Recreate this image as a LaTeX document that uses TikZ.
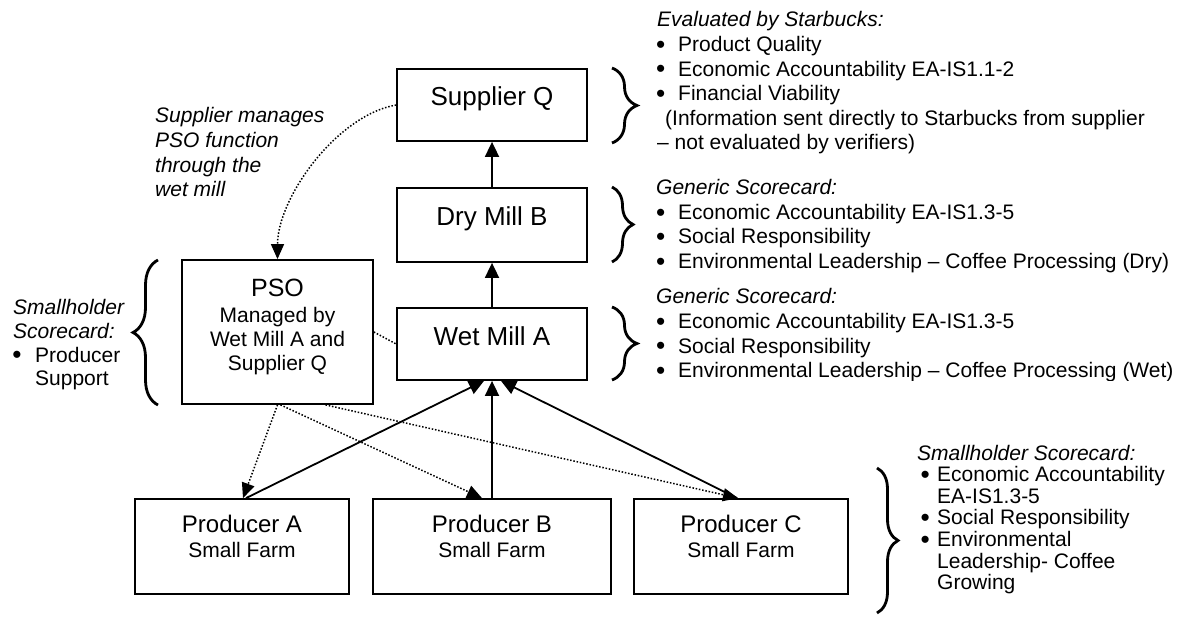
\documentclass[tikz,border=0pt]{standalone}
\usepackage{fontspec}
\setmainfont{Liberation Sans}
\usetikzlibrary{arrows.meta,decorations.pathreplacing,calc}

% bullet set in a box of fixed width, so that the item text starts at a fixed place
\newcommand\bulletbox[1]{\makebox[#1][l]{\raisebox{-0.08em}{\scalebox{1.25}{\textbullet}}}}

\begin{document}
\begin{tikzpicture}[x=1pt,y=-1pt,
  box/.style={draw, line width=1.8pt, inner sep=0pt},
  ttl/.style={inner sep=0pt, anchor=base, font=\fontsize{26}{30}\selectfont},
  sub/.style={inner sep=0pt, anchor=base, font=\fontsize{21}{25}\selectfont},
  txt/.style={inner sep=0pt, anchor=base west, font=\fontsize{21}{25}\selectfont},
  flow/.style={line width=1.8pt, -{Triangle[length=15pt,width=14pt]}},
  link/.style={line width=1.5pt, dash pattern=on 1.5pt off 1.8pt},
  linkarrow/.style={link, -{Triangle[length=15pt,width=13pt]}},
  curly/.style={decorate, line width=2.8pt, decoration={brace, amplitude=#1}},
]
\fill[white] (0,0) rectangle (1183,620);
\useasboundingbox (0,0) rectangle (1183,620);

% ---- boxes of the supply chain
\node[box, minimum width=190pt, minimum height=72pt] (sup) at (492,105) {};
\node[box, minimum width=190pt, minimum height=74pt] (dry) at (492,225) {};
\node[box, minimum width=190pt, minimum height=72pt] (wet) at (492,344) {};
\node[box, minimum width=191pt, minimum height=144pt] (pso) at (277.5,332) {};
\node[box, minimum width=214pt, minimum height=95pt] (pa) at (242,546.5) {};
\node[box, minimum width=238pt, minimum height=95pt] (pb) at (492,546.5) {};
\node[box, minimum width=214pt, minimum height=95pt] (pc) at (741,546.5) {};

% ---- box labels
\node[ttl] (supT) at (492,106) {Supplier Q};
\node[ttl] (dryT) at (492,226) {Dry Mill B};
\node[ttl] (wetT) at (492,345) {Wet Mill A};
\node[ttl, font=\fontsize{25}{30}\selectfont] (psoT) at (277.5,297) {PSO};
\node[sub] (psoL1) at (277.5,322.5) {Managed by};
\node[sub] (psoL2) at (277.5,346.5) {Wet Mill A and};
\node[sub] (psoL3) at (277.5,370.5) {Supplier Q};
\node[ttl, font=\fontsize{24}{28}\selectfont] (paT) at (242,532) {Producer A};
\node[sub] (paS) at (242,557) {Small Farm};
\node[ttl, font=\fontsize{24}{28}\selectfont] (pbT) at (492,532) {Producer B};
\node[sub] (pbS) at (492,557) {Small Farm};
\node[ttl, font=\fontsize{24}{28}\selectfont] (pcT) at (741,532) {Producer C};
\node[sub] (pcS) at (741,557) {Small Farm};

% ---- product flow
\draw[flow] (dry.north) -- (sup.south);
\draw[flow] (wet.north) -- (dry.south);
\draw[flow] ($(pa.north)+(4,0)$) -- ($(wet.south)+(-8,0)$);
\draw[flow] (pb.north) -- (wet.south);
\draw[flow] ($(pc.north)+(-4,0)$) -- ($(wet.south)+(9,0)$);

% ---- management links
\draw[linkarrow] (sup.west) to[out=190,in=90,looseness=0.8] (pso.north);
\draw[link] (pso.east) -- (wet.west);
\draw[linkarrow] (pso.south) -- ($(pa.north)+(1,0)$);
\draw[linkarrow] ($(pso.south)+(3,0)$) -- ($(pb.north)+(-10,0)$);
\draw[linkarrow] ($(pso.south)+(48,0)$) -- ($(pc.north)+(-3,0)$);

% ---- braces
\draw[curly=25pt] (612,68) -- (612,143);
\draw[curly=21pt] (612,187) -- (612,262);
\draw[curly=25pt] (612,307) -- (612,380);
\draw[curly=21pt] (877,468) -- (877,613);
\draw[curly=25pt] (158,405) -- (158,260);

% ---- note on the curved link
\node[txt, font=\fontsize{21}{25}\selectfont\itshape] (n1) at (155,123) {Supplier manages};
\node[txt, font=\fontsize{21}{25}\selectfont\itshape] (n2) at (155,147.7) {PSO function};
\node[txt, font=\fontsize{21}{25}\selectfont\itshape] (n3) at (155,172.4) {through the};
\node[txt, font=\fontsize{21}{25}\selectfont\itshape] (n4) at (155,197) {wet mill};

% ---- supplier evaluation
\node[txt, font=\fontsize{21}{25}\selectfont\itshape] (s0) at (657,27) {Evaluated by Starbucks:};
\node[txt] (s1) at (656,51.6) {\bulletbox{22pt}Product Quality};
\node[txt] (s2) at (656,76.2) {\bulletbox{22pt}Economic Accountability EA-IS1.1-2};
\node[txt] (s3) at (656,100.8) {\bulletbox{22pt}Financial Viability};
\node[txt] (s4) at (665,125.4) {(Information sent directly to Starbucks from supplier};
\node[txt] (s5) at (657,150) {-- not evaluated by verifiers)};

% ---- dry mill scorecard
\node[txt, font=\fontsize{21}{25}\selectfont\itshape] (d0) at (656,195) {Generic Scorecard:};
\node[txt] (d1) at (656,219.5) {\bulletbox{22pt}Economic Accountability EA-IS1.3-5};
\node[txt] (d2) at (656,244) {\bulletbox{22pt}Social Responsibility};
\node[txt] (d3) at (656,268.5) {\bulletbox{22pt}Environmental Leadership -- Coffee Processing (Dry)};

% ---- wet mill scorecard
\node[txt, font=\fontsize{21}{25}\selectfont\itshape] (w0) at (656,304) {Generic Scorecard:};
\node[txt] (w1) at (656,328.5) {\bulletbox{22pt}Economic Accountability EA-IS1.3-5};
\node[txt] (w2) at (656,353) {\bulletbox{22pt}Social Responsibility};
\begin{scope}
\clip (600,330) rectangle (1183,380);
\node[txt] (w3) at (656,377.5) {\bulletbox{22pt}Environmental Leadership -- Coffee Processing (Wet)};
\end{scope}

% ---- PSO scorecard
\node[txt, font=\fontsize{21}{25}\selectfont\itshape] (l0) at (13,315) {Smallholder};
\node[txt, font=\fontsize{21}{25}\selectfont\itshape] (l1) at (13,338.5) {Scorecard:};
\node[txt] (l2) at (12.3,362) {\bulletbox{22.7pt}Producer};
\node[txt] (l3) at (35,385.5) {Support};

% ---- producer scorecard
\node[txt, font=\fontsize{21}{25}\selectfont\itshape] (r0) at (917,460) {Smallholder Scorecard:};
\node[txt] (r1) at (920.5,481.6) {\bulletbox{16.5pt}Economic Accountability};
\node[txt] (r2) at (937,503.2) {EA-IS1.3-5};
\node[txt] (r3) at (920.5,524.8) {\bulletbox{16.5pt}Social Responsibility};
\node[txt] (r4) at (920.5,546.4) {\bulletbox{16.5pt}Environmental};
\node[txt] (r5) at (937,568) {Leadership- Coffee};
\node[txt] (r6) at (937,589.6) {Growing};
\end{tikzpicture}
\end{document}
